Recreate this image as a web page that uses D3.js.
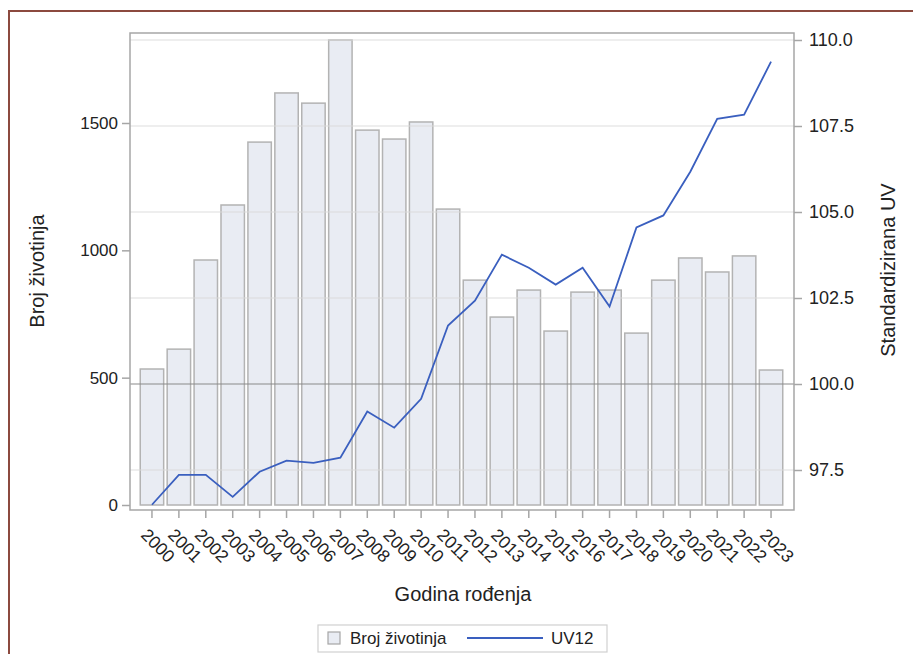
<!DOCTYPE html>
<html>
<head>
<meta charset="utf-8">
<script src="https://cdn.jsdelivr.net/npm/d3@7"></script>
<style>
  html, body { margin: 0; padding: 0; background: #fff; }
  svg { display: block; font-family: "Liberation Sans", Arial, sans-serif; }
</style>
</head>
<body>
<svg id="chart" width="913" height="654"></svg>
<script>
const years = ["2000","2001","2002","2003","2004","2005","2006","2007","2008","2009","2010","2011",
               "2012","2013","2014","2015","2016","2017","2018","2019","2020","2021","2022","2023"];
const brojZivotinja = [534, 612, 962, 1178, 1425, 1618, 1578, 1826, 1472, 1437, 1504, 1162,
                       883, 738, 844, 683, 836, 844, 675, 883, 970, 915, 978, 530];
const uv12 = [96.49, 97.36, 97.36, 96.72, 97.45, 97.77, 97.71, 97.86, 99.2, 98.73, 99.57, 101.7,
              102.42, 103.76, 103.38, 102.89, 103.38, 102.25, 104.55, 104.9, 106.17, 107.71, 107.83, 109.37];
const leftTicks = [0, 500, 1000, 1500];
const rightTicks = [97.5, 100.0, 102.5, 105.0, 107.5, 110.0];
const refValue = 100;
const labels = { x: "Godina rođenja", yLeft: "Broj životinja", yRight: "Standardizirana UV",
                 legendBar: "Broj životinja", legendLine: "UV12" };

const svg = d3.select("#chart");
const plot = { left: 130, right: 794, top: 33, bottom: 510 };

// frame
svg.append("rect").attr("x", 9).attr("y", 11).attr("width", 913).attr("height", 660)
  .attr("fill", "none").attr("stroke", "#8c4a3f").attr("stroke-width", 2);

const x = d3.scaleBand().domain(years).range([138.5, 784.5]).paddingInner(0.13).paddingOuter(0.065);
const yL = d3.scaleLinear().domain([0, 1500]).range([505, 123]);
const yR = d3.scaleLinear().domain([97.5, 110]).range([470, 40]);

// bars
svg.append("g").selectAll("rect").data(years).join("rect")
  .attr("x", d => x(d))
  .attr("width", x.bandwidth())
  .attr("y", (d, i) => yL(brojZivotinja[i]))
  .attr("height", (d, i) => yL(0) - yL(brojZivotinja[i]))
  .attr("fill", "#e9ecf3")
  .attr("stroke", "#b3b3b3")
  .attr("stroke-width", 1.5);

// gridlines (right axis)
svg.append("g").selectAll("line").data(rightTicks.filter(t => t !== refValue)).join("line")
  .attr("x1", plot.left).attr("x2", plot.right)
  .attr("y1", d => yR(d)).attr("y2", d => yR(d))
  .attr("stroke", "#d8d8d8").attr("stroke-opacity", 0.6).attr("stroke-width", 1.5);

// reference line
svg.append("line").attr("x1", plot.left).attr("x2", plot.right)
  .attr("y1", yR(refValue)).attr("y2", yR(refValue))
  .attr("stroke", "#8a8a8a").attr("stroke-width", 1.2);

// line
const line = d3.line().x((d, i) => x(years[i]) + x.bandwidth() / 2).y(d => yR(d));
svg.append("path").datum(uv12).attr("d", line)
  .attr("fill", "none").attr("stroke", "#3a5fbf").attr("stroke-width", 1.8);

// plot border
svg.append("rect").attr("x", plot.left).attr("y", plot.top)
  .attr("width", plot.right - plot.left).attr("height", plot.bottom - plot.top)
  .attr("fill", "none").attr("stroke", "#a6a6a6").attr("stroke-width", 1.5);

// left axis
const axL = svg.append("g").attr("transform", `translate(${plot.left},0)`)
  .call(d3.axisLeft(yL).tickValues(leftTicks).tickSize(8).tickPadding(4).tickFormat(d3.format("d")));
axL.select(".domain").remove();
axL.selectAll("line").attr("stroke", "#a6a6a6").attr("stroke-width", 1.5);
axL.selectAll("text").attr("fill", "#222").style("font-size", "17px").attr("font-family", "Liberation Sans, Arial, sans-serif");

// right axis
const axR = svg.append("g").attr("transform", `translate(${plot.right},0)`)
  .call(d3.axisRight(yR).tickValues(rightTicks).tickSize(8).tickPadding(7).tickFormat(d3.format(".1f")));
axR.select(".domain").remove();
axR.selectAll("line").attr("stroke", "#a6a6a6").attr("stroke-width", 1.5);
axR.selectAll("text").attr("fill", "#222").style("font-size", "18px").attr("font-family", "Liberation Sans, Arial, sans-serif");

// bottom axis
const axB = svg.append("g").attr("transform", `translate(0,${plot.bottom})`)
  .call(d3.axisBottom(x).tickSize(8).tickSizeOuter(0));
axB.select(".domain").remove();
axB.selectAll("line").attr("stroke", "#a6a6a6").attr("stroke-width", 1.5);
axB.selectAll("text")
  .attr("fill", "#222").style("font-size", "17.5px").attr("font-family", "Liberation Sans, Arial, sans-serif")
  .attr("text-anchor", "start").attr("dy", null).attr("y", null)
  .attr("transform", "translate(-12,26) rotate(45)");

// axis titles
svg.append("text").attr("x", 463).attr("y", 601).attr("text-anchor", "middle")
  .style("font-size", "20px").attr("fill", "#222").text(labels.x);
svg.append("text").attr("transform", "translate(44,271) rotate(-90)").attr("text-anchor", "middle")
  .style("font-size", "20px").attr("fill", "#222").text(labels.yLeft);
svg.append("text").attr("transform", "translate(895,270) rotate(-90)").attr("text-anchor", "middle")
  .style("font-size", "20px").attr("fill", "#222").text(labels.yRight);

// legend
const lg = svg.append("g");
lg.append("rect").attr("x", 318).attr("y", 625).attr("width", 289).attr("height", 27)
  .attr("fill", "#fff").attr("stroke", "#d0d0d0").attr("stroke-width", 1.2);
lg.append("rect").attr("x", 328).attr("y", 632).attr("width", 12).attr("height", 12)
  .attr("fill", "#e9ecf3").attr("stroke", "#a6a6a6").attr("stroke-width", 1.2);
lg.append("text").attr("x", 350).attr("y", 644).style("font-size", "17px").attr("fill", "#222").text(labels.legendBar);
lg.append("line").attr("x1", 467).attr("x2", 543).attr("y1", 638).attr("y2", 638)
  .attr("stroke", "#3a5fbf").attr("stroke-width", 1.8);
lg.append("text").attr("x", 551).attr("y", 644).style("font-size", "17px").attr("fill", "#222").text(labels.legendLine);
</script>
</body>
</html>
